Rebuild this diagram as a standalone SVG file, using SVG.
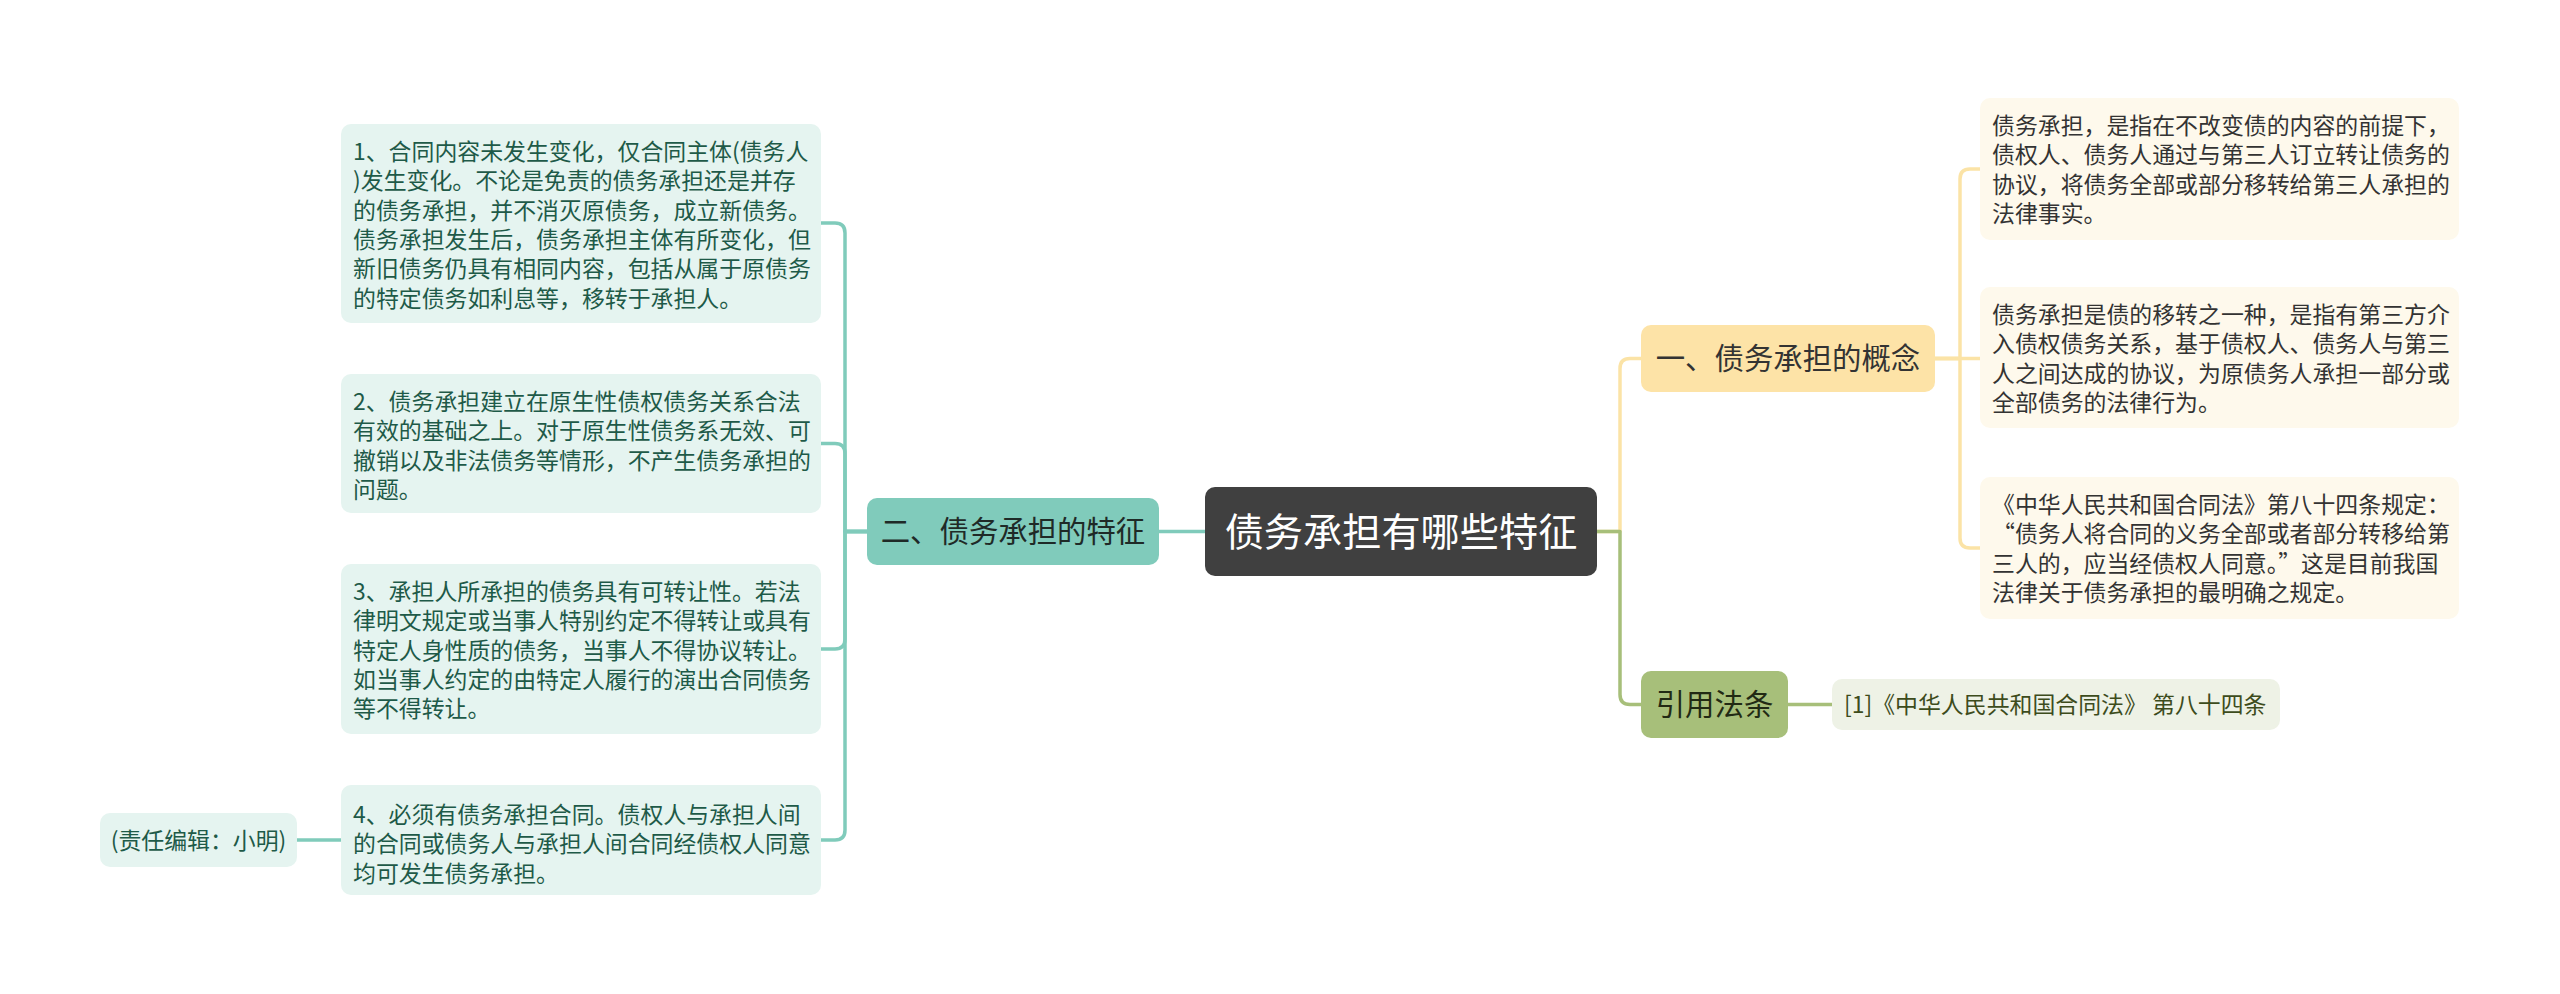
<svg xmlns="http://www.w3.org/2000/svg" width="2560" height="994" viewBox="0 0 2560 994">
<style>
text{font-family:"Noto Sans CJK SC","Noto Sans",sans-serif;}
.lb{fill:#e5f4f0;}
.lt{font-size:22.9px;fill:#1e5a48;}
.rb{fill:#fef9ec;}
.rt{font-size:22.9px;fill:#333333;}
.c{fill:none;stroke-width:3.5;stroke-linecap:round;stroke-linejoin:round;}
.teal{stroke:#80cbbb;}
.yel{stroke:#fbe3a6;}
.grn{stroke:#a7bf7a;}
</style>
<rect width="2560" height="994" fill="#ffffff"/>
<g id="connectors">
<path class="c teal" d="M1205 531.5 H1159"/>
<path class="c teal" d="M867 531.5 H845 V233 Q845 223 835 223 H821"/>
<path class="c teal" d="M867 531.5 H845 V453.5 Q845 443.5 835 443.5 H821"/>
<path class="c teal" d="M867 531.5 H845 V639 Q845 649 835 649 H821"/>
<path class="c teal" d="M867 531.5 H845 V830 Q845 840 835 840 H821"/>
<path class="c teal" d="M341 840 H297"/>
<path class="c yel" d="M1597 531.5 H1620 V368.5 Q1620 358.5 1630 358.5 H1641"/>
<path class="c grn" d="M1597 531.5 H1620 V694.5 Q1620 704.5 1630 704.5 H1641"/>
<path class="c yel" d="M1935 358.5 H1960 V179 Q1960 169 1970 169 H1980"/>
<path class="c yel" d="M1935 358.5 H1980"/>
<path class="c yel" d="M1935 358.5 H1960 V538 Q1960 548 1970 548 H1980"/>
<path class="c grn" d="M1788 704.5 H1832"/>
</g>
<g id="center">
<rect x="1205" y="487" width="392" height="89" rx="10" fill="#404040"/>
<text x="1401" y="545.5" text-anchor="middle" font-size="39.2" fill="#ffffff">债务承担有哪些特征</text>
</g>
<g id="n-features">
<rect x="867" y="498" width="292" height="67" rx="10" fill="#80cbbb"/>
<text x="1013" y="542" text-anchor="middle" font-size="29.4" fill="#1f2a27">二、债务承担的特征</text>
</g>
<g id="f1">
<rect class="lb" x="341" y="124" width="480" height="199" rx="10"/>
<text class="lt" x="353" y="159.7">1、合同内容未发生变化，仅合同主体(债务人</text>
<text class="lt" x="353" y="189.1">)发生变化。不论是免责的债务承担还是并存</text>
<text class="lt" x="353" y="218.5">的债务承担，并不消灭原债务，成立新债务。</text>
<text class="lt" x="353" y="247.9">债务承担发生后，债务承担主体有所变化，但</text>
<text class="lt" x="353" y="277.3">新旧债务仍具有相同内容，包括从属于原债务</text>
<text class="lt" x="353" y="306.7">的特定债务如利息等，移转于承担人。</text>
</g>
<g id="f2">
<rect class="lb" x="341" y="374" width="480" height="139" rx="10"/>
<text class="lt" x="353" y="409.7">2、债务承担建立在原生性债权债务关系合法</text>
<text class="lt" x="353" y="439.1">有效的基础之上。对于原生性债务系无效、可</text>
<text class="lt" x="353" y="468.5">撤销以及非法债务等情形，不产生债务承担的</text>
<text class="lt" x="353" y="497.9">问题。</text>
</g>
<g id="f3">
<rect class="lb" x="341" y="564" width="480" height="170" rx="10"/>
<text class="lt" x="353" y="599.7">3、承担人所承担的债务具有可转让性。若法</text>
<text class="lt" x="353" y="629.1">律明文规定或当事人特别约定不得转让或具有</text>
<text class="lt" x="353" y="658.5">特定人身性质的债务，当事人不得协议转让。</text>
<text class="lt" x="353" y="687.9">如当事人约定的由特定人履行的演出合同债务</text>
<text class="lt" x="353" y="717.3">等不得转让。</text>
</g>
<g id="f4">
<rect class="lb" x="341" y="785" width="480" height="110" rx="10"/>
<text class="lt" x="353" y="823">4、必须有债务承担合同。债权人与承担人间</text>
<text class="lt" x="353" y="852.4">的合同或债务人与承担人间合同经债权人同意</text>
<text class="lt" x="353" y="881.8">均可发生债务承担。</text>
</g>
<g id="editor">
<rect class="lb" x="100" y="813" width="197" height="54" rx="10"/>
<text class="lt" x="198.5" y="848.5" text-anchor="middle">(责任编辑：小明)</text>
</g>
<g id="n-concept">
<rect x="1641" y="325" width="294" height="67" rx="10" fill="#fde3a7"/>
<text x="1788" y="369" text-anchor="middle" font-size="29.4" fill="#333333">一、债务承担的概念</text>
</g>
<g id="c1">
<rect class="rb" x="1980" y="98" width="479" height="142" rx="10"/>
<text class="rt" x="1992" y="133.7">债务承担，是指在不改变债的内容的前提下，</text>
<text class="rt" x="1992" y="163.1">债权人、债务人通过与第三人订立转让债务的</text>
<text class="rt" x="1992" y="192.5">协议，将债务全部或部分移转给第三人承担的</text>
<text class="rt" x="1992" y="221.9">法律事实。</text>
</g>
<g id="c2">
<rect class="rb" x="1980" y="287" width="479" height="141" rx="10"/>
<text class="rt" x="1992" y="322.7">债务承担是债的移转之一种，是指有第三方介</text>
<text class="rt" x="1992" y="352.1">入债权债务关系，基于债权人、债务人与第三</text>
<text class="rt" x="1992" y="381.5">人之间达成的协议，为原债务人承担一部分或</text>
<text class="rt" x="1992" y="410.9">全部债务的法律行为。</text>
</g>
<g id="c3">
<rect class="rb" x="1980" y="477" width="479" height="142" rx="10"/>
<text class="rt" x="1992" y="512.7">《中华人民共和国合同法》第八十四条规定：</text>
<text class="rt" x="1992" y="542.1">“债务人将合同的义务全部或者部分转移给第</text>
<text class="rt" x="1992" y="571.5">三人的，应当经债权人同意。”这是目前我国</text>
<text class="rt" x="1992" y="600.9">法律关于债务承担的最明确之规定。</text>
</g>
<g id="n-law">
<rect x="1641" y="671" width="147" height="67" rx="10" fill="#a7bf7a"/>
<text x="1714.5" y="715" text-anchor="middle" font-size="29.4" fill="#222a14">引用法条</text>
</g>
<g id="law1">
<rect x="1832" y="679" width="448" height="51" rx="10" fill="#eef2e6"/>
<text x="1844" y="713" font-size="22.9" fill="#3d4c1c">[1]《中华人民共和国合同法》 第八十四条</text>
</g>
</svg>
